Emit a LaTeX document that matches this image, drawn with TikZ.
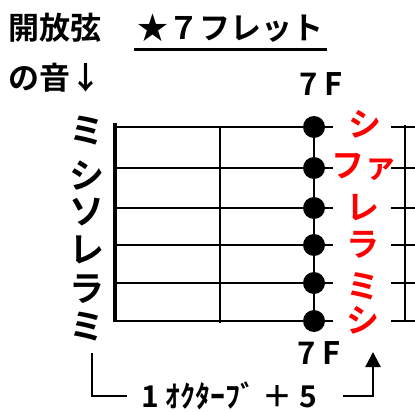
\documentclass[tikz,border=0pt]{standalone}
\usepackage{fontspec}
\newfontfamily\jp{Noto Sans CJK JP Bold}
\usetikzlibrary{arrows.meta,backgrounds}
\begin{document}
\begin{tikzpicture}[x=1pt,y=-1pt,line width=2pt,
  title/.style={font=\jp\fontsize{31}{31}\selectfont,inner sep=0pt},
  note/.style={font=\jp\fontsize{35}{35}\selectfont,inner sep=0pt},
  rnote/.style={font=\jp\fontsize{33}{33}\selectfont,inner sep=0pt,text=red},
  dot/.style={circle,fill=black,minimum size=22pt,inner sep=0pt},
  fret/.style={line width=2pt},
  nut/.style={line width=4.5pt}]
\useasboundingbox (0,0) rectangle (415,412);
% strings
\foreach \y in {127,168,208,245,283,321}{
  \draw (115,\y) -- (333,\y);
  \draw (391,\y) -- (415,\y);
}
\draw[nut] (115,123) -- (115,322);
\draw[fret] (220,126) -- (220,323);
\draw[fret] (405,125) -- (405,321);
% dots at 7th fret
\foreach \i/\y in {1/127,2/168,3/208,4/245,5/283,6/321}{
  \node[dot] (d\i) at (314,\y) {};
}
\begin{scope}[on background layer]
\draw[fret] (d1.center) -- (d6.center);
\end{scope}
% open string notes
\node[note] (o1) at (87,131) {ミ};
\node[note] (o2) at (87,176) {シ};
\node[note] (o3) at (87,212) {ソ};
\node[note] (o4) at (87,250) {レ};
\node[note] (o5) at (87,289) {ラ};
\node[note] (o6) at (87,327) {ミ};
% 7th fret notes
\node[rnote] (r1) at (365,124) {シ};
\node[rnote] (r2) at (364,167) {ファ};
\node[rnote] (r3) at (363,208) {レ};
\node[rnote] (r4) at (363,245) {ラ};
\node[rnote] (r5) at (363,286) {ミ};
\node[rnote] (r6) at (363,320) {シ};
% titles
\node[title,anchor=west] (t1) at (8,28) {開放弦};
\node[title,anchor=west] (t3) at (8,78) {の音↓};
\node[title,anchor=west] (t2) at (136,28) {★７フレット};
\draw[line width=2.5pt] (134,49.5) -- (327,49.5);
\node[title] (f1) at (321,84) {7 F};
\node[title] (f2) at (319,353) {7 F};
% octave bracket
\node[font=\jp\fontsize{30}{30}\selectfont,inner sep=0pt] (oct) at (229,396) {1 ｵｸﾀｰﾌﾞ ＋ 5};
\coordinate (lb) at (92,353);
\coordinate (rb) at (373,352);
\draw[line width=2.5pt] (lb) |- ([xshift=-13pt]oct.west);
\draw[line width=2.5pt,-{Triangle[width=15pt,length=15pt]}] ([xshift=25pt]oct.east) -| (rb);
\end{tikzpicture}
\end{document}
